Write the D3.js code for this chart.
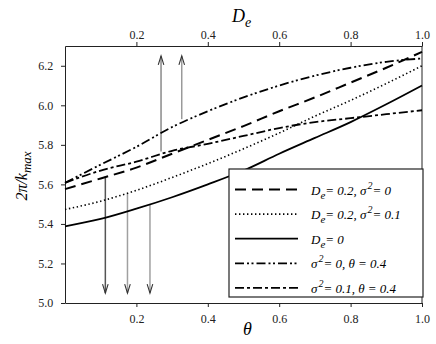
<!DOCTYPE html>
<html>
<head>
<meta charset="utf-8">
<script src="https://cdn.jsdelivr.net/npm/d3@7"></script>
<style>
  body { margin: 0; background: #fff; }
  .axis path, .axis line { stroke: #222; }
</style>
</head>
<body>
<svg id="chart" width="436" height="344"></svg>
<script>
"use strict";

var SERIF = "'Liberation Serif', 'Times New Roman', 'DejaVu Serif', serif";

// theta grid shared by all curves
var THETA = [0, 0.1, 0.2, 0.3, 0.4, 0.5, 0.6, 0.7, 0.8, 0.9, 1.0];

// 2pi/k_max
var DASHED   = [5.576, 5.630, 5.685, 5.755, 5.825, 5.895, 5.970, 6.040, 6.115, 6.190, 6.270];
var DOTTED   = [5.473, 5.515, 5.570, 5.635, 5.705, 5.780, 5.860, 5.945, 6.025, 6.110, 6.200];
var SOLID    = [5.388, 5.425, 5.477, 5.535, 5.600, 5.670, 5.755, 5.835, 5.915, 6.005, 6.100];
var DASH_DD  = [5.608, 5.700, 5.790, 5.890, 5.970, 6.040, 6.100, 6.150, 6.190, 6.220, 6.237];
var DASH_DOT = [5.608, 5.670, 5.715, 5.770, 5.805, 5.845, 5.885, 5.915, 5.935, 5.955, 5.975];

var LABELS = [
  ["D", "e", "= 0.2, ", "σ", "2", "= 0"],
  ["D", "e", "= 0.2, ", "σ", "2", "= 0.1"],
  ["D", "e", "= 0"],
  ["σ", "2", "= 0, θ = 0.4"],
  ["σ", "2", "= 0.1, θ = 0.4"]
];

// arrows: [theta, from, to, shade]
var ARROWS = [
  [0.269, 5.766, 6.250, "#8a8a8a"],
  [0.327, 5.930, 6.250, "#9a9a9a"],
  [0.113, 5.640, 5.050, "#555555"],
  [0.175, 5.555, 5.050, "#a0a0a0"],
  [0.238, 5.500, 5.050, "#a0a0a0"]
];

var X_TICKS = [0.2, 0.4, 0.6, 0.8, 1.0];
var Y_TICKS = [5.0, 5.2, 5.4, 5.6, 5.8, 6.0, 6.2];

var series = [
  { values: DASHED,   dash: "11,6",            width: 2.0 },
  { values: DOTTED,   dash: "1.4,2.6",         width: 1.6 },
  { values: SOLID,    dash: null,              width: 1.8 },
  { values: DASH_DD,  dash: "9,3,2,2.5,2,3",   width: 1.8 },
  { values: DASH_DOT, dash: "9,3,3,3",         width: 1.8 }
];

var margin = { left: 65, top: 46, right: 14, bottom: 41 };
var width = 436 - margin.left - margin.right;
var height = 344 - margin.top - margin.bottom;

var svg = d3.select("#chart");
var graph = svg.append("g").attr("transform", "translate(" + margin.left + "," + margin.top + ")");

var x = d3.scaleLinear().domain([0, 1]).range([0, width]);
var y = d3.scaleLinear().domain([5.0, 6.3]).range([height, 0]);

var fmt = d3.format(".1f");

function styleAxis(g) {
  g.attr("font-family", SERIF).attr("font-size", 12);
  g.selectAll("text").attr("fill", "#222");
}

graph.append("g")
  .attr("class", "x axis")
  .attr("transform", "translate(0," + height + ")")
  .call(d3.axisBottom(x).tickValues(X_TICKS).tickFormat(fmt).tickSize(4).tickSizeOuter(0))
  .call(styleAxis)
  .selectAll("text").attr("dy", "1.1em");

graph.append("g")
  .attr("class", "x axis")
  .call(d3.axisTop(x).tickValues(X_TICKS).tickFormat(fmt).tickSize(4).tickSizeOuter(0))
  .call(styleAxis);

graph.append("g")
  .attr("class", "y axis")
  .call(d3.axisLeft(y).tickValues(Y_TICKS).tickFormat(fmt).tickSize(4).tickSizeOuter(0))
  .call(styleAxis)
  .selectAll("text").attr("dx", "-0.4em");

graph.append("line")
  .attr("x1", width).attr("x2", width)
  .attr("y1", 0).attr("y2", height)
  .attr("stroke", "#222");

// arrows
graph.selectAll(".arrow")
  .data(ARROWS)
  .enter().append("g")
    .attr("class", "arrow")
    .each(function(d) {
      var g = d3.select(this);
      var ax = x(d[0]), y0 = y(d[1]), y1 = y(d[2]);
      var dir = y1 < y0 ? 1 : -1;
      g.append("line")
        .attr("x1", ax).attr("x2", ax)
        .attr("y1", y0).attr("y2", y1)
        .attr("stroke", d[3]).attr("stroke-width", 1.5);
      g.append("path")
        .attr("d", "M" + (ax - 2.8) + "," + (y1 + dir * 9) + "L" + ax + "," + y1 + "L" + (ax + 2.8) + "," + (y1 + dir * 9))
        .attr("fill", "none").attr("stroke", "#333").attr("stroke-width", 1.1);
    });

var line = d3.line()
  .x(function(d, i) { return x(THETA[i]); })
  .y(function(d) { return y(d); })
  .curve(d3.curveMonotoneX);

graph.selectAll(".curve")
  .data(series)
  .enter().append("path")
    .attr("class", "curve")
    .attr("fill", "none")
    .attr("stroke", "#000")
    .attr("stroke-width", function(d) { return d.width; })
    .attr("stroke-dasharray", function(d) { return d.dash; })
    .attr("d", function(d) { return line(d.values); });

// legend
var legend = graph.append("g").attr("transform", "translate(164,123)");
legend.append("rect")
  .attr("width", 194).attr("height", 128)
  .attr("fill", "#fff").attr("stroke", "#222").attr("stroke-width", 1.2);

var rows = legend.selectAll(".row")
  .data(series)
  .enter().append("g")
    .attr("class", "row")
    .attr("transform", function(d, i) { return "translate(0," + (20.5 + i * 24.6) + ")"; });

rows.append("line")
  .attr("x1", 6).attr("x2", 69)
  .attr("stroke", "#000")
  .attr("stroke-width", function(d) { return d.width; })
  .attr("stroke-dasharray", function(d) { return d.dash; });

rows.append("text")
  .attr("x", 82).attr("y", 5)
  .attr("font-family", SERIF)
  .style("font-size", "13px")
  .style("font-style", "italic")
  .each(function(d, i) {
    var t = d3.select(this);
    var parts = LABELS[i];
    parts.forEach(function(p, j) {
      var span = t.append("tspan").text(p);
      if (p === "e") span.attr("dy", 4).style("font-size", "11px");
      else if (p === "2") span.attr("dy", -6).attr("dx", 1).style("font-size", "10px");
      else if (j > 0 && (parts[j - 1] === "e")) span.attr("dy", -4);
      else if (j > 0 && (parts[j - 1] === "2")) span.attr("dy", 6);
    });
  });

// axis titles
var topTitle = svg.append("text")
  .attr("x", 232).attr("y", 22)
  .attr("font-family", SERIF)
  .style("font-size", "18px").style("font-style", "italic");
topTitle.append("tspan").text("D");
topTitle.append("tspan").text("e").attr("dy", 5).style("font-size", "14px");

svg.append("text")
  .attr("x", 243).attr("y", 335)
  .attr("font-family", SERIF)
  .style("font-size", "18px").style("font-style", "italic")
  .text("θ");

var yTitle = svg.append("text")
  .attr("transform", "translate(27,176) rotate(-90)")
  .attr("text-anchor", "middle")
  .attr("font-family", SERIF)
  .style("font-size", "16px").style("font-style", "italic");
yTitle.append("tspan").text("2π/k");
yTitle.append("tspan").text("max").attr("dy", 4).style("font-size", "13px");
</script>
</body>
</html>
